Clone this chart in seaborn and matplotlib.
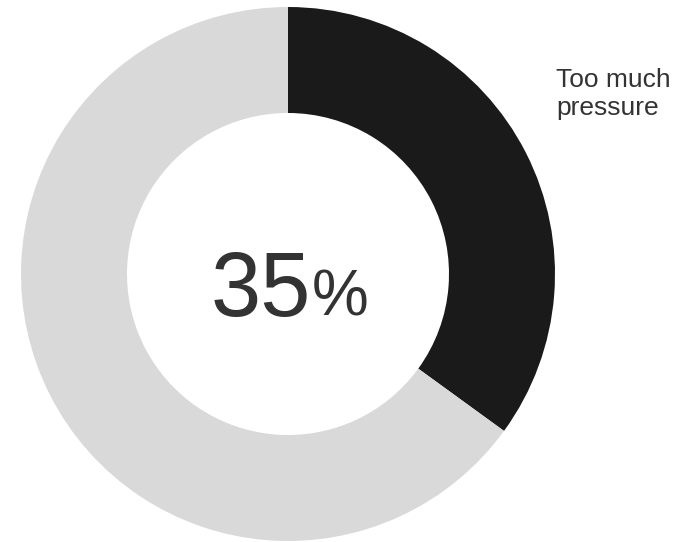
import matplotlib
matplotlib.use('Agg')
import matplotlib.pyplot as plt
import seaborn as sns

# share of respondents
labels = ["Too much pressure", "Other"]
values = [35, 65]
colors = ["#1a1a1a", "#d9d9d9"]
center_value = "35"
label_lines = ["Too much", "pressure"]

sns.set_style("white")
plt.rcParams['font.family'] = ['Liberation Sans', 'DejaVu Sans']

W, H = 686, 542
fig = plt.figure(figsize=(W / 100, H / 100), dpi=100)
ax = fig.add_axes([0, 0, 1, 1])

cx, cy = 288, H - 274
r_out, r_in = 267, 161

ax.pie(values, colors=colors, startangle=90, counterclock=False,
       center=(cx, cy), radius=r_out,
       wedgeprops=dict(width=r_out - r_in, linewidth=0))

ax.set_xlim(0, W)
ax.set_ylim(0, H)
ax.set_aspect('equal')
ax.axis('off')

# big number in the hole
ax.text(311, H - 316, center_value, fontsize=65, color="#333333",
        ha='right', va='baseline')
ax.text(312, H - 316, "%", fontsize=46, color="#333333",
        ha='left', va='baseline')

# slice label
ax.text(556, H - 87, label_lines[0], fontsize=19, color="#333333",
        ha='left', va='baseline')
ax.text(556, H - 115, label_lines[1], fontsize=19, color="#333333",
        ha='left', va='baseline')

fig.savefig("out.png", dpi=100)
